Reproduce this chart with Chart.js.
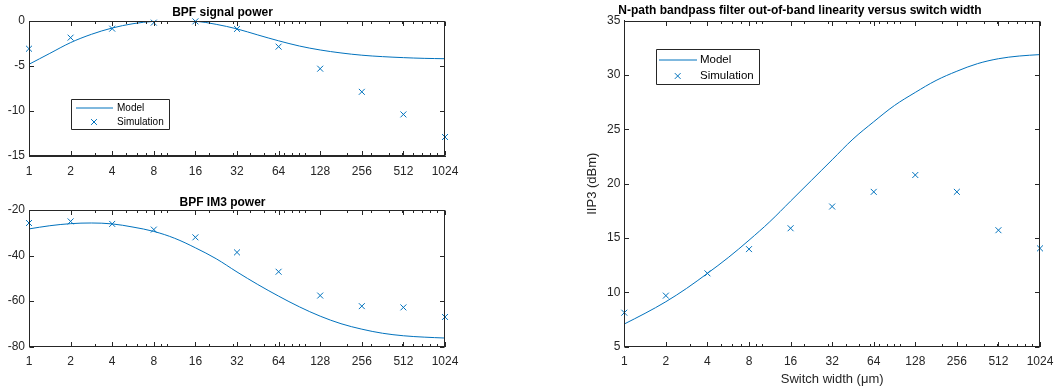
<!DOCTYPE html>
<html><head><meta charset="utf-8">
<script src="https://cdn.jsdelivr.net/npm/chart.js@4/dist/chart.umd.min.js"></script>
<style>
html,body{margin:0;padding:0;background:#fff;width:1056px;height:392px;overflow:hidden}
canvas{position:absolute;display:block}
</style></head><body>
<canvas id="c1" width="460" height="180" style="left:0;top:0"></canvas>
<canvas id="c2" width="460" height="202" style="left:0;top:190px"></canvas>
<canvas id="c3" width="496" height="392" style="left:560px;top:0"></canvas>
<script>
// ---- data ----
const xSwitch = [1, 2, 4, 8, 16, 32, 64, 128, 256, 512, 1024];
const xTickLabels = ['1', '2', '4', '8', '16', '32', '64', '128', '256', '512', '1024'];
const xModel = [1, 1.414, 2, 2.828, 4, 5.657, 8, 11.31, 16, 22.63, 32, 45.25, 64, 90.51, 128, 181.0, 256, 362.0, 512, 724.1, 1024];
const minorTicks = [3, 5, 6, 7, 9, 10, 20, 30, 40, 50, 60, 70, 80, 90, 100, 200, 300, 400, 500, 600, 700, 800, 900, 1000];

const signalModel = [-4.81, -3.6, -2.4, -1.48, -0.78, -0.3, -0.04, 0.0, -0.02, -0.37, -0.88, -1.55, -2.2, -2.78, -3.22, -3.55, -3.8, -3.96, -4.07, -4.15, -4.19];
const signalSim = [-3.08, -1.85, -0.85, -0.18, -0.04, -0.88, -2.85, -5.3, -7.87, -10.38, -12.89];
const signalYTicks = [0, -5, -10, -15];

const im3Model = [-28.3, -26.9, -26.0, -25.7, -26.1, -27.5, -29.4, -32.4, -36.6, -41.4, -47.2, -52.7, -57.8, -62.5, -66.6, -69.9, -72.3, -74.1, -75.2, -75.8, -76.2];
const im3Sim = [-25.7, -25.0, -26.1, -28.6, -32.0, -38.6, -47.1, -57.55, -62.2, -62.75, -66.95];
const im3YTicks = [-20, -40, -60, -80];

const iip3Model = [7.09, 8.07, 9.14, 10.37, 11.75, 13.2, 14.8, 16.5, 18.4, 20.3, 22.2, 24.1, 25.7, 27.2, 28.4, 29.5, 30.35, 31.05, 31.5, 31.75, 31.88];
const iip3Sim = [8.13, 9.7, 11.75, 13.98, 15.9, 17.9, 19.25, 20.8, 19.25, 15.72, 14.05];
const iip3YTicks = [5, 10, 15, 20, 25, 30, 35];

// ---- style ----
const BLUE = '#0072BD';
const AX = '#262626';
Chart.defaults.font.family = '"Liberation Sans", Arial, Helvetica, sans-serif';
Chart.defaults.color = AX;

const axesBox = {
  id: 'axesBox',
  afterDraw(chart) {
    const ctx = chart.ctx;
    const ca = chart.chartArea;
    const x = chart.scales.x, y = chart.scales.y;
    const L = Math.round(ca.left) + 0.5, R = Math.round(ca.right) - 0.5;
    const T = Math.round(ca.top) + 0.5, B = Math.round(ca.bottom) - 0.5;
    ctx.save();
    ctx.strokeStyle = AX; ctx.lineWidth = 1;
    const seg = (a, b, c, d) => { ctx.beginPath(); ctx.moveTo(a, b); ctx.lineTo(c, d); ctx.stroke(); };
    seg(L - 0.5, T, R + 0.5, T); seg(R, T, R, B); seg(R + 0.5, B, L - 0.5, B); seg(L, B, L, T);
    xSwitch.forEach(v => { const p = Math.round(x.getPixelForValue(v)) + 0.5; seg(p, B, p, B - 4.5); seg(p, T, p, T + 4.5); });
    minorTicks.forEach(v => { const p = Math.round(x.getPixelForValue(v)) + 0.5; seg(p, B, p, B - 2.5); seg(p, T, p, T + 2.5); });
    y.ticks.forEach(t => { const p = Math.round(y.getPixelForValue(t.value)) + 0.5; seg(L, p, L + 4.5, p); seg(R, p, R - 4.5, p); });
    ctx.restore();
  }
};

const matlabLegend = {
  id: 'matlabLegend',
  afterDraw(chart, args, o) {
    if (!o || !o.show) return;
    const ctx = chart.ctx, left = chart.chartArea.left, top = chart.chartArea.top;
    const bx = Math.round(left + o.dx) + 0.5, by = Math.round(top + o.dy) + 0.5;
    ctx.save();
    ctx.fillStyle = '#fff'; ctx.fillRect(bx, by, o.w, o.h);
    ctx.strokeStyle = AX; ctx.lineWidth = 1;
    ctx.beginPath(); ctx.rect(bx, by, o.w, o.h); ctx.stroke();
    ctx.strokeStyle = BLUE; ctx.lineWidth = 1;
    ctx.beginPath(); ctx.moveTo(left + o.l0, top + o.r1); ctx.lineTo(left + o.l1, top + o.r1); ctx.stroke();
    const mx = left + o.mx, my = top + o.r2, d = 2.9;
    ctx.beginPath(); ctx.moveTo(mx - d, my - d); ctx.lineTo(mx + d, my + d); ctx.moveTo(mx - d, my + d); ctx.lineTo(mx + d, my - d); ctx.stroke();
    ctx.fillStyle = '#000';
    ctx.font = o.fs + 'px "Liberation Sans", Arial, sans-serif';
    ctx.textBaseline = 'middle'; ctx.textAlign = 'left';
    ctx.fillText('Model', left + o.tx, top + o.r1);
    ctx.fillText('Simulation', left + o.tx, top + o.r2);
    ctx.restore();
  }
};

function makeChart(id, o) {
  return new Chart(document.getElementById(id), {
    type: 'scatter',
    data: {
      datasets: [
        { label: 'Model', data: xModel.map((x, i) => ({x, y: o.model[i]})), showLine: true,
          borderColor: BLUE, backgroundColor: BLUE, borderWidth: 1, pointRadius: 0, pointHoverRadius: 0, tension: 0.35 },
        { label: 'Simulation', data: xSwitch.map((x, i) => ({x, y: o.sim[i]})), showLine: false,
          pointStyle: 'crossRot', pointRadius: 4.2, pointBorderWidth: 1, borderColor: BLUE, backgroundColor: BLUE, clip: false }
      ]
    },
    options: {
      responsive: false, animation: false, devicePixelRatio: 1, events: [],
      layout: { padding: { left: 0, right: o.padR, top: 0, bottom: 0 } },
      plugins: {
        legend: { display: false }, tooltip: { enabled: false },
        title: { display: true, text: o.title, color: '#000', font: { size: 12, weight: 'bold' }, padding: { top: o.tTop, bottom: o.tBot } },
        matlabLegend: o.legend || { show: false }
      },
      scales: {
        x: {
          type: 'logarithmic', min: 1, max: 1024,
          grid: { display: false, drawTicks: false }, border: { display: true, color: AX, width: 1 },
          afterBuildTicks: s => { s.ticks = xSwitch.map(v => ({ value: v })); },
          afterFit: s => { s.height = o.xH; s.paddingLeft = 0; s.paddingRight = 0; },
          ticks: { autoSkip: false, maxRotation: 0, minRotation: 0, padding: o.xPad, font: { size: 12 }, color: AX,
                   callback: (v, i) => xTickLabels[i] },
          title: o.xTitle ? { display: true, text: o.xTitle, color: AX, font: { size: 13 }, padding: { top: 0, bottom: 5 } } : { display: false }
        },
        y: {
          min: o.yMin, max: o.yMax,
          grid: { display: false, drawTicks: false }, border: { display: true, color: AX, width: 1 },
          afterBuildTicks: s => { s.ticks = o.yTicks.map(v => ({ value: v })); },
          afterFit: s => { s.width = o.yW; },
          ticks: { padding: 4, font: { size: 12 }, color: AX },
          title: o.yTitle ? { display: true, text: o.yTitle, color: AX, font: { size: 13 }, padding: { top: 25, bottom: 0 } } : { display: false }
        }
      }
    },
    plugins: [axesBox, matlabLegend]
  });
}

makeChart('c1', {
  title: 'BPF signal power', model: signalModel, sim: signalSim, yTicks: signalYTicks, yMin: -15, yMax: 0,
  padR: 15, yW: 29, xH: 24, xPad: 8, tTop: 5.3, tBot: 1.3,
  legend: { show: true, dx: 42, dy: 78, w: 98, h: 30, l0: 47, l1: 84, r1: 87, r2: 101, tx: 88, mx: 65, fs: 10 }
});
makeChart('c2', {
  title: 'BPF IM3 power', model: im3Model, sim: im3Sim, yTicks: im3YTicks, yMin: -80, yMax: -20,
  padR: 15, yW: 29, xH: 45.3, xPad: 8, tTop: 5, tBot: 0.6
});
makeChart('c3', {
  title: 'N-path bandpass filter out-of-band linearity versus switch width', model: iip3Model, sim: iip3Sim,
  yTicks: iip3YTicks, yMin: 5, yMax: 35, padR: 16, yW: 64.3, xH: 45.3, xPad: 8, tTop: 3.4, tBot: 2.9,
  xTitle: 'Switch width (μm)', yTitle: 'IIP3 (dBm)',
  legend: { show: true, dx: 31.4, dy: 28.3, w: 103, h: 35, l0: 34.7, l1: 72.7, r1: 39.3, r2: 55.3, tx: 75.7, mx: 53.4, fs: 11.5 }
});
</script>
</body></html>
